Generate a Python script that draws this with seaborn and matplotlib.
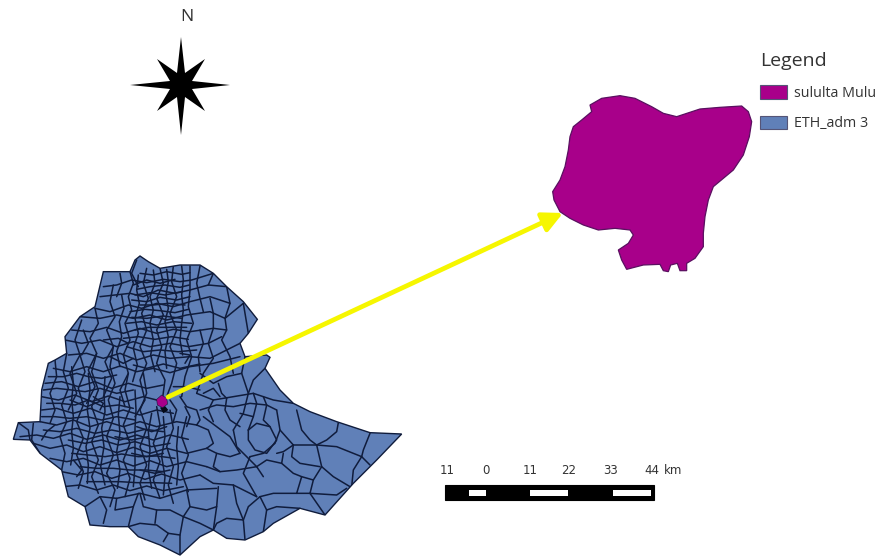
import pandas as pd
import seaborn as sns
import matplotlib.pyplot as plt
from matplotlib.patches import Polygon, Rectangle

# outlines (coordinates of the 3x crops)
country_outline = [(420,48),(445,65),(480,85),(540,75),(600,75),(640,100),(680,140),(730,185),(772,238),(745,280),
    (720,310),(735,350),(800,345),(810,352),(795,385),(840,450),(880,490),(930,515),(1010,545),(1110,578),(1205,582),
    (1130,660),(1060,730),(975,825),(900,805),(820,850),(790,875),(735,900),(680,895),(640,870),(600,890),(540,945),
    (480,915),(415,890),(385,860),(330,860),(270,855),(255,800),(205,770),(185,690),(120,640),(90,600),(40,598),
    (55,548),(120,545),(125,450),(145,370),(165,360),(200,340),(195,290),(240,230),(285,200),(310,95),(390,95),(405,60)]

district_outline = [(150,225),(185,205),(240,197),(285,205),(335,230),(370,250),(410,260),(480,237),(540,232),(605,228),
    (625,245),(635,275),(628,320),(610,375),(580,420),(550,445),(520,470),(505,510),(495,560),(490,610),(490,650),
    (465,685),(440,700),(440,722),(420,722),(412,700),(392,705),(385,725),(370,722),(360,703),(310,705),(260,718),
    (245,690),(235,660),(265,640),(280,615),(270,600),(225,595),(175,600),(130,585),(90,565),(60,545),(42,510),
    (38,485),(60,450),(75,410),(85,360),(90,320),(100,290),(125,270),(155,245)]

small_district = [(470,478),(485,465),(500,475),(503,492),(488,503),(472,495)]
dark_blob = [(480,503),(495,498),(505,510),(490,520)]

north_lines = [
    [(310,140),(350,135),(395,120),(440,128),(490,118),(540,125),(575,120),(640,100)],
    [(300,170),(345,165),(390,160),(430,170),(475,150),(525,160),(570,150),(625,135),(680,140)],
    [(285,205),(330,215),(385,195),(425,205),(470,190),(520,200),(570,185),(630,170),(690,190)],
    [(240,230),(300,235),(350,225),(400,235),(450,225),(500,240),(560,225),(630,215),(675,235),(730,190)],
    [(215,270),(270,275),(320,262),(370,280),(420,265),(470,280),(520,268),(570,275),(640,265),(680,270)],
    [(195,300),(245,310),(300,300),(350,320),(400,305),(450,320),(510,310),(565,320),(625,310),(665,290)],
    [(205,345),(260,340),(310,355),(360,340),(410,360),(460,345),(510,355),(570,350),(630,355),(720,310)],
    [(420,100),(460,105),(500,95),(545,103),(570,98)],
    [(410,148),(450,140),(495,135),(540,142),(568,135)],
    [(395,180),(440,185),(480,172),(530,180),(570,170)],
    [(390,215),(435,208),(480,212),(525,218),(565,208)],
    [(380,250),(425,245),(470,255),(520,245),(575,250)],
    [(370,295),(415,290),(465,298),(515,290),(565,298)],
    [(390,95),(400,130),(385,170),(395,210),(375,250),(390,300),(370,345),(385,400),(360,450),(375,500)],
    [(440,85),(430,130),(445,175),(425,220),(440,270),(420,320),(440,370),(420,420),(435,480),(405,530)],
    [(480,85),(490,130),(470,175),(490,225),(470,270),(485,320),(470,370),(495,420),(487,480)],
    [(520,78),(515,125),(530,170),(510,220),(530,270),(510,320),(530,370),(515,430),(500,470)],
    [(570,78),(570,150),(565,200),(580,250),(560,300),(575,350),(555,410),(545,470)],
    [(630,175),(640,220),(640,265),(625,310),(640,355),(610,400),(590,460)],
    [(675,235),(680,270),(665,300),(690,350),(700,400)],
    [(340,135),(330,185),(345,230),(320,270),(340,320),(315,365),(335,415),(310,470)],
    [(285,205),(295,250),(270,295),(290,340),(265,390),(285,440),(260,490)],
    [(245,240),(225,300),(240,345),(210,400),(230,460),(205,510)],
    [(410,60),(395,100),(415,140)],
    [(360,100),(365,130),(350,170)],
    [(460,90),(465,130),(450,170),(460,210),(450,250),(460,300),(452,345),(465,395)],
    [(545,78),(550,120),(545,165),(550,210),(545,250),(540,300),(548,345)],
    [(600,78),(590,130),(600,175),(610,215)],
    [(640,100),(625,135)],
    [(680,140),(690,190),(675,235)],
    [(730,190),(745,280)],
    [(415,105),(410,150),(418,190),(405,235),(415,280),(400,325),(412,375),(398,425)],
    [(500,88),(505,125),(498,165),(505,205),(495,245),(505,290),(495,335),(500,385)],
    [(365,165),(372,205),(358,245),(365,290),(350,335),(360,380)],
    [(400,135),(440,120),(480,130),(525,118)],
    [(405,165),(450,158),(495,165),(545,155)],
    [(420,195),(460,195),(505,190),(555,195)],
    [(395,232),(440,235),(490,228),(545,235)],
    [(405,270),(445,262),(495,262),(560,262)],
    [(380,320),(430,335),(480,330),(535,335),(590,330)],
    [(400,375),(440,385),(490,372),(540,385),(600,372)],
    [(600,270),(610,310),(595,350),(600,395)],
    [(310,300),(355,295),(385,310)],
    [(250,270),(265,310),(245,345)],
]

west_lines = [
    [(160,385),(210,395),(260,380),(310,395),(360,378),(410,395),(460,385),(510,398),(570,380),(640,370),(720,350)],
    [(135,430),(185,425),(235,440),(285,425),(335,445),(385,430),(440,445),(490,435)],
    [(125,470),(175,480),(225,465),(275,485),(325,468),(375,485),(430,470),(470,480)],
    [(125,510),(170,505),(220,520),(270,505),(320,525),(370,510),(420,525),(470,510),(520,520)],
    [(120,545),(170,555),(220,540),(270,560),(320,545),(370,560),(420,545),(470,560),(530,545),(590,555)],
    [(60,590),(110,585),(160,595),(210,580),(260,598),(310,585),(360,600),(410,585),(460,600),(510,585),(565,598)],
    [(100,610),(150,625),(200,615),(250,635),(300,620),(350,638),(400,622),(450,640),(500,625),(560,640),(620,625)],
    [(150,655),(200,665),(250,655),(300,675),(350,660),(400,678),(450,662),(500,680),(560,665),(620,680)],
    [(185,695),(235,705),(285,695),(335,715),(385,700),(435,718),(485,702),(540,720),(600,705)],
    [(190,740),(240,735),(290,750),(340,735),(390,752),(440,738),(490,752),(550,740)],
    [(165,360),(170,410),(150,460),(165,510),(150,550)],
    [(200,340),(190,395),(205,445),(185,495),(200,545),(180,590),(195,640),(185,690)],
    [(240,345),(255,395),(235,445),(250,495),(230,545),(250,595),(230,645),(250,695),(235,745)],
    [(290,340),(275,395),(295,450),(275,500),(295,555),(275,605),(295,660),(275,710),(295,760)],
    [(340,320),(330,380),(345,430),(325,480),(340,535),(320,590),(340,645),(320,700),(345,750),(330,800)],
    [(385,400),(375,450),(390,505),(370,555),(390,610),(370,660),(390,715),(375,770)],
    [(430,400),(440,460),(420,510),(440,565),(420,620),(440,675),(420,730),(435,780)],
    [(470,500),(480,555),(460,610),(480,665),(460,720),(480,775)],
    [(510,510),(520,565),(500,620),(520,680),(505,735),(520,790)],
    [(560,530),(545,590),(565,645),(545,700),(565,755)],
    [(100,550),(95,600),(120,640)],
    [(55,548),(85,570),(90,600)],
    [(345,590),(395,600),(445,590)],
    [(395,640),(440,650),(490,640)],
    [(410,560),(455,575),(500,560)],
    [(210,480),(260,500),(310,480)],
    [(420,690),(465,700),(510,690)],
    [(220,660),(245,690),(230,710)],
    [(280,470),(310,490),(300,510)],
    [(330,350),(370,370),(400,355)],
    [(540,340),(570,345),(555,370)],
    [(145,410),(190,410),(230,400),(265,410),(305,415),(350,405)],
    [(130,450),(170,445),(215,450),(255,455),(300,445),(350,460),(400,450)],
    [(140,490),(180,490),(225,495),(265,480),(310,500),(355,495),(400,505)],
    [(125,530),(165,530),(210,535),(260,530),(305,540),(350,530),(405,540)],
    [(130,570),(180,575),(230,565),(285,580),(335,570),(385,580),(435,568),(490,575)],
    [(205,600),(255,610),(305,600),(355,615),(405,605),(455,620),(510,610)],
    [(215,640),(265,645),(315,650),(365,642),(415,650),(470,648),(525,655)],
    [(240,680),(290,685),(340,685),(390,690),(440,690),(490,695)],
    [(260,725),(310,725),(360,725),(410,728),(460,728),(515,730)],
    [(215,380),(220,430),(215,480),(220,530),(215,575),(220,625),(212,675)],
    [(265,400),(270,450),(262,510),(270,565),(258,620),(265,675),(262,730)],
    [(315,410),(312,460),(315,515),(305,565),(312,620),(302,680),(315,735)],
    [(360,470),(355,525),(360,580),(350,635),(360,690),(352,745)],
    [(405,450),(408,510),(405,565),(405,620),(405,680),(400,740)],
    [(455,520),(445,575),(450,630),(445,690),(455,745)],
    [(490,530),(495,590),(485,650),(495,710),(490,765)],
    [(535,560),(530,620),(535,680),(530,735)],
    [(125,600),(140,575),(165,555)],
]

east_lines = [
    [(735,350),(725,400),(745,460),(730,520),(700,570)],
    [(590,460),(640,480),(700,470),(760,460),(820,480),(880,490)],
    [(600,510),(650,495),(700,500),(750,490),(800,495),(830,510)],
    [(610,530),(650,560),(690,590),(720,640)],
    [(795,385),(760,420),(745,460)],
    [(830,510),(840,570),(825,610),(790,640),(750,650)],
    [(745,570),(770,550),(810,560),(830,600),(800,640),(765,630),(745,600),(745,570)],
    [(700,570),(710,620),(770,680),(790,710)],
    [(890,510),(905,570),(930,600),(950,615)],
    [(720,640),(690,650),(650,640),(620,625)],
    [(620,680),(660,695),(710,690),(770,680)],
    [(600,705),(640,730),(700,735),(770,770)],
    [(655,740),(650,800),(640,870)],
    [(700,735),(710,790),(730,840)],
    [(590,555),(625,570),(640,610),(620,625)],
    [(640,480),(625,510),(640,545)],
    [(680,475),(675,510),(690,540),(720,560)],
    [(600,400),(640,430),(680,410),(725,400)],
    [(610,460),(640,445),(660,470)],
    [(760,460),(770,490),(760,530),(745,570)],
    [(790,470),(800,495),(790,540),(810,560)],
    [(840,570),(880,615)],
    [(720,520),(760,530)],
    [(650,640),(640,680),(660,695)],
    [(750,650),(730,700),(770,770)],
    [(540,470),(560,500),(590,510),(600,540),(590,555)],
    [(520,440),(560,440),(600,450)],
    [(510,480),(530,510),(520,545)],
    [(555,500),(570,530),(560,560)],
    [(655,430),(665,460),(680,475)],
]

south_lines = [
    [(1110,580),(1090,630),(1085,650),(1110,675)],
    [(1085,650),(1060,690),(1055,740)],
    [(1015,548),(1010,575),(980,600),(950,615),(880,615),(850,635),(830,640)],
    [(950,615),(1010,620),(1085,650)],
    [(950,615),(965,680),(940,720),(930,760),(975,825)],
    [(965,680),(1000,710),(1050,740)],
    [(930,760),(1010,765),(1040,745)],
    [(850,640),(845,670),(880,700),(905,710),(940,720)],
    [(880,615),(875,650),(900,670),(960,680)],
    [(845,670),(800,660),(770,680)],
    [(905,710),(890,760),(930,760)],
    [(890,760),(820,760),(780,770),(745,800),(730,840),(735,900)],
    [(780,770),(800,810),(830,800),(900,805)],
    [(800,810),(790,875)],
    [(730,840),(680,835),(650,850),(640,870)],
    [(255,800),(300,770),(350,775),(420,760),(480,775),(560,750),(650,745)],
    [(300,770),(320,810),(310,850)],
    [(350,775),(345,810),(400,800),(415,760)],
    [(400,800),(385,860)],
    [(385,860),(420,850),(470,855),(505,880),(490,905)],
    [(420,760),(430,800),(470,810),(465,850)],
    [(470,810),(510,810),(550,830),(570,800),(560,750)],
    [(550,830),(540,885),(505,880)],
    [(570,800),(620,810),(650,800)],
    [(550,830),(600,850),(640,870)],
    [(540,885),(540,945)],
]

legend_labels = ['sululta Mulu', 'ETH_adm 3']
scale_labels = ['11', '0', '11', '22', '33', '44']
scale_label_x = [447, 486, 530, 569, 611, 652]
scale_white = [(469, 486), (530, 568), (613, 651)]
star_points = [(181,37),(185,73),(205,59),(192,81),(230,85),(192,89),(205,111),(185,97),(181,135),(177,97),
    (157,111),(170,89),(130,85),(170,81),(157,59),(177,73)]

blue = '#6080b8'
purple = '#a8008a'
navy = '#101c3c'

sns.set_theme(style='white')
plt.rcParams['font.family'] = ['Open Sans', 'DejaVu Sans']

W, H = 884, 557
fig = plt.figure(figsize=(W / 100, H / 100), dpi=100, facecolor='white')

# page axes in pixels, for the furniture
ax = fig.add_axes([0, 0, 1, 1], zorder=3)
ax.set_xlim(0, W)
ax.set_ylim(H, 0)
ax.axis('off')
ax.patch.set_alpha(0)

# country map
map_ax = fig.add_axes([0, 0, 410 / W, 317 / H], zorder=1)
shape = Polygon(country_outline, closed=True, facecolor=blue, edgecolor=navy, linewidth=1.0)
map_ax.add_patch(shape)

rows = []
line_id = 0
for group in (north_lines, west_lines, east_lines, south_lines):
    for points in group:
        line_id += 1
        rows.extend({'line': line_id, 'x': p[0], 'y': p[1]} for p in points)
df = pd.DataFrame(rows)

sns.lineplot(data=df, x='x', y='y', units='line', estimator=None, sort=False, color=navy, linewidth=1.1, ax=map_ax)
for line in map_ax.get_lines():
    line.set_clip_path(shape)
map_ax.set_xlim(0, 1230)
map_ax.set_ylim(951, 0)
map_ax.axis('off')
map_ax.add_patch(Polygon(dark_blob, closed=True, facecolor='#050a18', edgecolor='none', zorder=5))
map_ax.add_patch(Polygon(small_district, closed=True, facecolor=purple, edgecolor=navy, linewidth=0.4, zorder=5))

# zoomed district
zoom_ax = fig.add_axes([540 / W, 1 - 280 / H, 344 / W, 250 / H], zorder=2)
zoom_ax.set_xlim(0, 1032)
zoom_ax.set_ylim(750, 0)
zoom_ax.axis('off')
zoom_ax.patch.set_alpha(0)
zoom_ax.add_patch(Polygon(district_outline, closed=True, facecolor=purple, edgecolor='#5a1060', linewidth=0.9))

# arrow
ax.annotate('', xy=(563, 213), xytext=(168, 397),
            arrowprops=dict(arrowstyle='-|>,head_length=1.0,head_width=0.5', color='#f6f600', lw=3.4,
                            shrinkA=0, shrinkB=0))

# north star
ax.add_patch(Polygon(star_points, closed=True, facecolor='black', edgecolor='none'))
ax.text(187, 17, 'N', ha='center', va='center', fontsize=12.5, color='#333333')

# legend
handles = [Rectangle((0, 0), 1, 1, facecolor=purple, edgecolor='#555577', linewidth=0.8),
           Rectangle((0, 0), 1, 1, facecolor=blue, edgecolor='#555577', linewidth=0.8)]
leg = ax.legend(handles, legend_labels, title='Legend', loc='upper left', bbox_to_anchor=(747 / W, 1 - 39 / H),
                bbox_transform=fig.transFigure, frameon=False, fontsize=10.3, title_fontsize=14, alignment='left',
                handlelength=1.9, handleheight=1.1, handletextpad=0.5, labelspacing=1.05, borderpad=0.4)
for t in leg.get_texts():
    t.set_color('#333333')
leg.get_title().set_color('#333333')

# scale bar
ax.add_patch(Rectangle((445, 485), 209, 15, facecolor='black', edgecolor='black', linewidth=0.8))
for x0, x1 in scale_white:
    ax.add_patch(Rectangle((x0, 490), x1 - x0, 6, facecolor='white', edgecolor='none'))
for x, s in zip(scale_label_x, scale_labels):
    ax.text(x, 470, s, ha='center', va='center', fontsize=8.5, color='#333333', family='DejaVu Sans')
ax.text(664, 470, 'km', ha='left', va='center', fontsize=8.5, color='#333333', family='DejaVu Sans')

fig.savefig('out.png', dpi=100)
